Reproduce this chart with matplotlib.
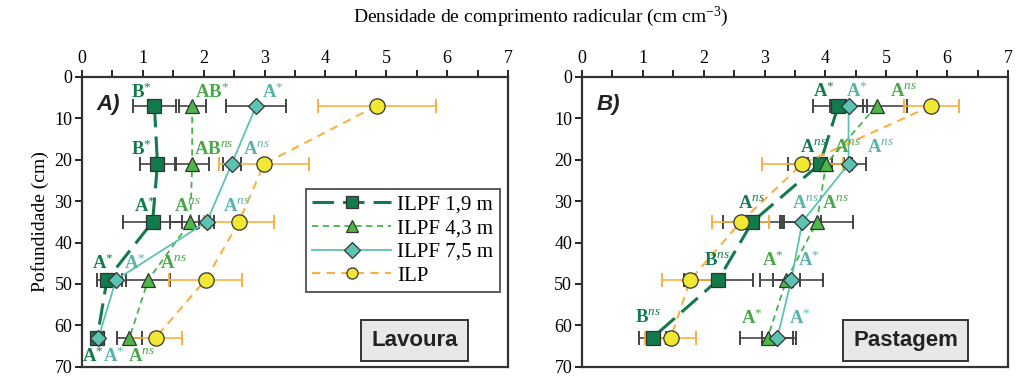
import matplotlib.pyplot as plt
import numpy as np

plt.rcParams['font.family'] = ['Liberation Serif', 'DejaVu Serif']
plt.rcParams['mathtext.fontset'] = 'custom'
plt.rcParams['mathtext.rm'] = 'Liberation Serif'
plt.rcParams['mathtext.it'] = 'Liberation Serif:italic'
plt.rcParams['mathtext.bf'] = 'Liberation Serif:bold'

depth = [7, 21, 35, 49, 63]
series_names = ["ILPF 1,9 m", "ILPF 4,3 m", "ILPF 7,5 m", "ILP"]

# Lavoura
lav_mean = [
    [1.19, 1.24, 1.16, 0.41, 0.25],
    [1.81, 1.81, 1.78, 1.09, 0.78],
    [2.86, 2.46, 2.05, 0.56, 0.27],
    [4.84, 2.99, 2.58, 2.03, 1.21],
]
lav_err = [
    [0.35, 0.28, 0.48, 0.16, 0.08],
    [0.22, 0.27, 0.33, 0.36, 0.20],
    [0.50, 0.15, 0.12, 0.10, 0.05],
    [0.97, 0.74, 0.57, 0.60, 0.43],
]
# Pastagem
pas_mean = [
    [4.21, 3.91, 2.80, 2.24, 1.16],
    [4.84, 4.01, 3.86, 3.36, 3.05],
    [4.38, 4.38, 3.62, 3.44, 3.21],
    [5.74, 3.62, 2.61, 1.78, 1.46],
]
pas_err = [
    [0.41, 0.53, 0.48, 0.57, 0.22],
    [0.50, 0.30, 0.60, 0.22, 0.46],
    [0.30, 0.28, 0.30, 0.52, 0.26],
    [0.45, 0.67, 0.47, 0.47, 0.42],
]

# letters of the mean comparison: (letter, superscript, series index)
lav_letters = [
    ("B", "*", 0), ("AB", "*", 1), ("A", "*", 2),
    ("B", "*", 0), ("AB", "ns", 1), ("A", "ns", 2),
    ("A", "*", 0), ("A", "ns", 1), ("A", "ns", 2),
    ("A", "*", 0), ("A", "*", 2), ("A", "ns", 1),
    ("A", "*", 0), ("A", "*", 2), ("A", "ns", 1),
]
lav_letter_pos = [
    (0.97, 3.8), (2.13, 3.8), (3.14, 3.8),
    (0.97, 17.5), (2.17, 17.5), (2.86, 17.5),
    (1.04, 31.3), (1.74, 31.3), (2.54, 31.3),
    (0.34, 45.0), (0.87, 45.0), (1.50, 45.0),
    (0.17, 67.6), (0.53, 67.6), (0.97, 67.6),
]
pas_letters = [
    ("A", "*", 0), ("A", "*", 2), ("A", "ns", 1),
    ("A", "ns", 0), ("A", "ns", 1), ("A", "ns", 2),
    ("A", "ns", 0), ("A", "ns", 2), ("A", "ns", 1),
    ("B", "ns", 0), ("A", "*", 1), ("A", "*", 2),
    ("B", "ns", 0), ("A", "*", 1), ("A", "*", 2),
]
pas_letter_pos = [
    (3.97, 3.5), (4.52, 3.5), (5.29, 3.5),
    (3.80, 17.0), (4.36, 17.0), (4.91, 17.0),
    (2.79, 30.6), (3.68, 30.6), (4.17, 30.6),
    (2.22, 44.4), (3.14, 44.4), (3.73, 44.4),
    (1.08, 58.2), (2.79, 58.2), (3.58, 58.2),
]

line_colors = ["#137a4c", "#45b54a", "#5cc3b2", "#fbb040"]
face_colors = ["#137a4c", "#4db848", "#5cc3b2", "#f0e832"]
text_colors = ["#137a4c", "#4aa64a", "#58b3a8"]
markers = ["s", "^", "D", "o"]
msizes = [10, 10, 8, 11]
styles = [(0, (7, 3)), (0, (3.5, 2.5)), "-", (0, (4, 3))]
widths = [2.2, 1.3, 1.3, 1.5]

fig = plt.figure(figsize=(10.21, 3.78), dpi=100)
ax1 = fig.add_axes([0.0803, 0.030, 0.4173, 0.7663])
ax2 = fig.add_axes([0.5700, 0.030, 0.4173, 0.7663])


def draw_panel(ax, means, errs, letters, letter_pos, panel, box_text, box_x):
    for i in range(4):
        ecol = "#fbb040" if i == 3 else "#444444"
        ax.errorbar(means[i], depth, xerr=errs[i], fmt="none", ecolor=ecol,
                    elinewidth=1.2, capsize=5, capthick=1.4, zorder=2)
    handles = []
    for i in range(4):
        h, = ax.plot(means[i], depth, color=line_colors[i], linestyle=styles[i],
                     linewidth=widths[i], marker=markers[i], markersize=msizes[i],
                     markerfacecolor=face_colors[i], markeredgecolor="#333333",
                     markeredgewidth=0.9, label=series_names[i], zorder=3 + i * 0.1)
        handles.append(h)
    for (letter, sup, k), (x, y) in zip(letters, letter_pos):
        if sup == "*":
            txt = letter + r"$^{*}$"
        else:
            txt = letter + r"$^{\mathit{ns}}$"
        ax.text(x, y, txt, color=text_colors[k], fontsize=13.5, fontweight="bold",
                ha="center", va="center", zorder=6)

    ax.set_xlim(0, 7)
    ax.set_ylim(70, 0)
    ax.xaxis.tick_top()
    ax.set_xticks(np.arange(0, 8, 1))
    ax.set_xticks(np.arange(0, 7.5, 0.5), minor=True)
    ax.set_yticks(np.arange(0, 80, 10))
    ax.tick_params(axis="x", which="both", direction="out", length=5, width=1.2,
                   labelsize=13, pad=2)
    ax.tick_params(axis="y", which="both", direction="out", length=5, width=1.2,
                   labelsize=13, pad=2)
    for s in ax.spines.values():
        s.set_linewidth(1.6)
        s.set_color("#333333")

    ax.text(0.035, 0.905, panel, transform=ax.transAxes, fontsize=16,
            fontweight="bold", fontstyle="italic", family="Liberation Sans",
            ha="left", va="center", color="#222222")
    ax.text(box_x, 0.09, box_text, transform=ax.transAxes, fontsize=16,
            fontweight="bold", family="Liberation Sans", ha="center", va="center",
            color="#222222",
            bbox=dict(boxstyle="square,pad=0.45", facecolor="#e8e8e8",
                      edgecolor="#333333", linewidth=1.4))
    return handles


handles = draw_panel(ax1, lav_mean, lav_err, lav_letters, lav_letter_pos,
                     "A)", "Lavoura", 0.78)
draw_panel(ax2, pas_mean, pas_err, pas_letters, pas_letter_pos,
           "B)", "Pastagem", 0.76)

leg = ax1.legend(handles=handles, loc="upper left", bbox_to_anchor=(0.525, 0.615),
                 fontsize=15, frameon=True, fancybox=False, handlelength=3.8,
                 handletextpad=0.3, borderpad=0.3, labelspacing=0.2,
                 borderaxespad=0.0)
leg.get_frame().set_edgecolor("#333333")
leg.get_frame().set_linewidth(1.4)
for h in leg.legend_handles:
    h.set_markersize(8)

ax1.set_ylabel("Pofundidade (cm)", fontsize=14, labelpad=4)
fig.text(0.53, 0.955, "Densidade de comprimento radicular (cm cm$^{-3}$)",
         fontsize=14, ha="center", va="center")

fig.savefig("out.png", dpi=100)
